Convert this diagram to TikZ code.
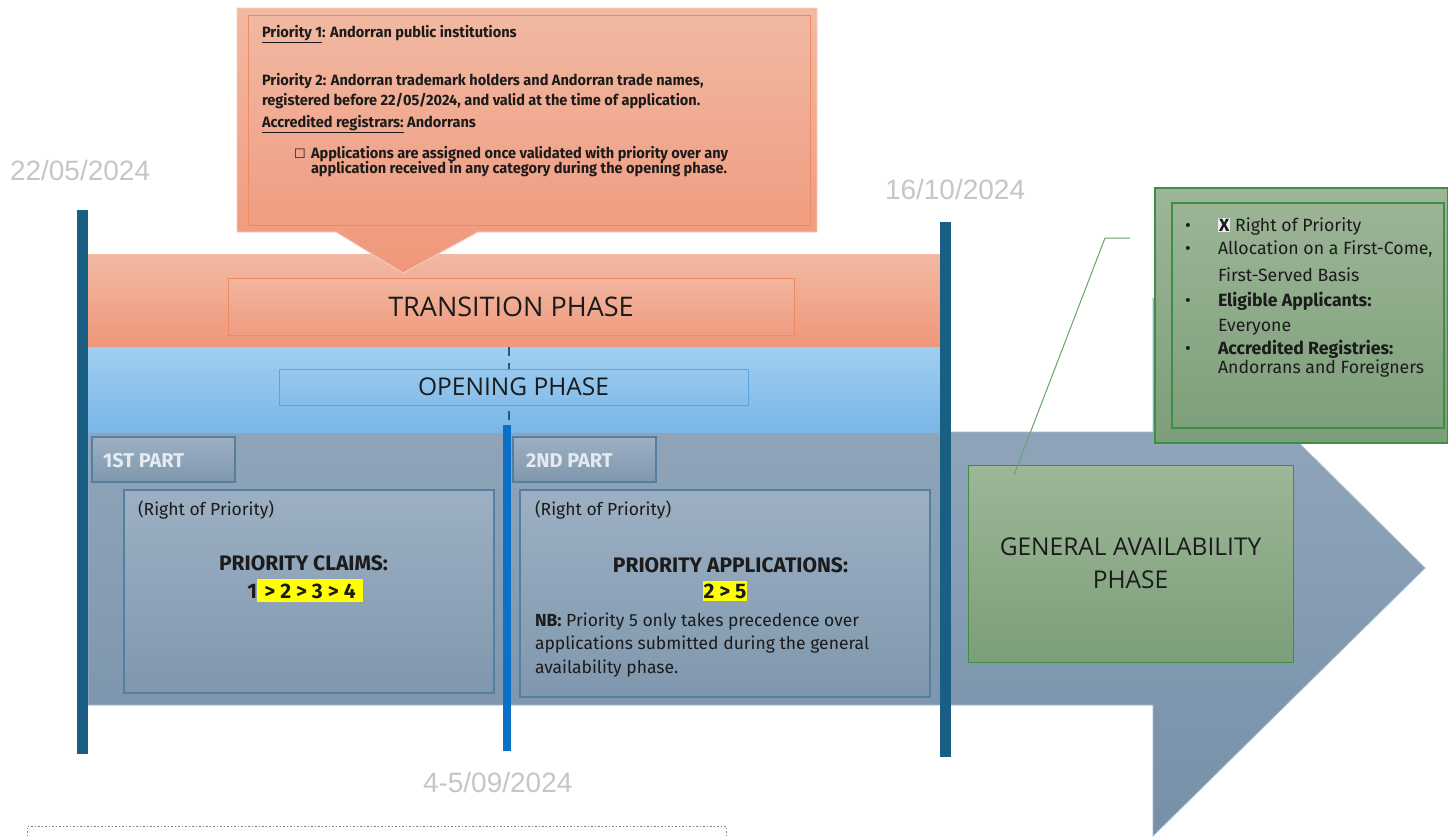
\documentclass[tikz,border=0pt]{standalone}
\usepackage{fontspec}
\setmainfont{Fira Sans}
\newfontfamily\plexc{Fira Sans}[FakeStretch=0.97]
\newfontfamily\opensf{Open Sans}
\newfontfamily\arialf{Liberation Sans}
\newfontfamily\symf{DejaVu Sans}
\usetikzlibrary{calc}
\definecolor{orT}{HTML}{F1B9A3}
\definecolor{orB}{HTML}{F0977A}
\definecolor{orBorder}{HTML}{EE8A62}
\definecolor{blT}{HTML}{A0CEF0}
\definecolor{blB}{HTML}{7AB6E7}
\definecolor{blBorder}{HTML}{56A6E0}
\definecolor{arrT}{HTML}{98ABBF}
\definecolor{arrB}{HTML}{7690A8}
\definecolor{arrEdge}{HTML}{9DBAD6}
\definecolor{boxBorder}{HTML}{557FA1}
\definecolor{boxT}{HTML}{9DB0C3}
\definecolor{boxB}{HTML}{7F97AD}
\definecolor{grT}{HTML}{9DB698}
\definecolor{grB}{HTML}{7C9E79}
\definecolor{grBorder}{HTML}{3F8E45}
\definecolor{barDark}{HTML}{185F83}
\definecolor{barBlue}{HTML}{0A70C8}
\definecolor{dategray}{HTML}{C6C6C6}
\definecolor{txt}{HTML}{1B1B1B}
\definecolor{parttxt}{HTML}{E4EAF0}
\definecolor{hl}{HTML}{FFFF00}
\tikzset{
  datelbl/.style={font=\arialf\fontsize{28}{32}\selectfont, text=dategray},
  calltxt/.style={anchor=base west, font=\plexc\bfseries\fontsize{15}{17}\selectfont, text=txt},
  bandbox/.style={anchor=north west, minimum width=854pt},
  phasebox/.style={anchor=north west, line width=1pt, text=txt},
  partbox/.style={anchor=north west, draw=boxBorder, line width=1.2pt, top color=boxT, bottom color=boxB, minimum width=143pt, minimum height=45pt},
  partlbl/.style={anchor=base west, font=\bfseries\fontsize{20}{22}\selectfont, text=parttxt},
  innerbox/.style={anchor=north west, draw=boxBorder, line width=1.2pt, top color=boxT, bottom color=boxB},
  bodytxt/.style={anchor=base west, font=\fontsize{17.5}{20}\selectfont, text=txt},
  headtxt/.style={anchor=base, font=\bfseries\fontsize{21}{24}\selectfont, text=txt},
  greentxt/.style={anchor=base west, font=\fontsize{17.7}{20}\selectfont, text=txt},
  bar/.style={anchor=north west, minimum width=11pt},
  conn/.style={draw=grBorder!80!white, line width=1pt}
}
\begin{document}
\begin{tikzpicture}[x=1pt,y=-1pt, every node/.style={inner sep=0pt,outer sep=0pt}]
\useasboundingbox (0,0) rectangle (1448,836);
\fill[white] (0,0) rectangle (1448,836);

% big arrow
\shadedraw[top color=arrT,bottom color=arrB, draw=arrEdge, line width=0.8pt]
  (88,432) -- (1153,432) -- (1153,298) -- (1425,568) -- (1153,836) -- (1153,705) -- (88,705) -- cycle;

% bands
\node[bandbox, top color=orT, bottom color=orB, minimum height=93pt] (transband) at (88,254) {};
\node[bandbox, top color=blT, bottom color=blB, minimum height=85pt] (openband) at (88,347) {};

% dashed split line
\coordinate (dtop) at (509,347);
\coordinate (dbot) at (509,428);
\draw[barDark, line width=1.6pt, dash pattern=on 9pt off 7pt] (dtop) -- (dbot);

\node[phasebox, draw=orBorder, top color=orT!90!orB, bottom color=orB!85!orT, minimum width=566pt, minimum height=57pt,
  font=\opensf\fontsize{27}{30}\selectfont] (trans) at (228,278) {TRANSITION PHASE};
\node[phasebox, draw=blBorder, top color=blT!75!blB, bottom color=blB!70!blT, minimum width=469pt, minimum height=36pt,
  font=\opensf\fontsize{24.5}{28}\selectfont] (open) at (279,369) {OPENING PHASE};

% callout
\shadedraw[top color=orT, bottom color=orB, draw=orT!70!white, line width=0.8pt]
  (237,8) -- (817,8) -- (817,232) -- (478,232) -- (403,273) -- (336,232) -- (237,232) -- cycle;
\node[anchor=north west, draw=orBorder, line width=1pt, minimum width=562pt, minimum height=210pt] (callin) at (248,15) {};
\node[calltxt] (p1) at (262,37) {\underline{Priority 1}: Andorran public institutions};
\node[calltxt] (p2) at (262,85) {Priority 2: Andorran trademark holders and Andorran trade names,};
\node[calltxt] (p2b) at (262,105) {registered before 22/05/2024, and valid at the time of application.};
\node[calltxt] (acc) at (262,127) {\underline{Accredited registrars:} Andorrans};
\node[anchor=base west, font=\symf\fontsize{13}{15}\selectfont, text=txt] (chk) at (294,158) {☐};
\node[calltxt] (ap1) at (311,158) {Applications are assigned once validated with priority over any};
\node[calltxt] (ap2) at (311,173) {application received in any category during the opening phase.};

% parts
\node[partbox] (part1) at (92,437) {};
\node[partlbl] (part1l) at (103,467) {1ST PART};
\node[partbox] (part2) at (513,437) {};
\node[partlbl] (part2l) at (526,467) {2ND PART};

\node[innerbox, minimum width=370pt, minimum height=203pt] (box1) at (124,490) {};
\node[bodytxt] (rp1) at (138,515) {(Right of Priority)};
\node[headtxt] (pc) at (303.5,570) {PRIORITY CLAIMS:};
\node[anchor=base east, font=\bfseries\fontsize{21}{24}\selectfont, text=txt] (c1) at (257,598) {1};
\node[anchor=base west, fill=hl, inner xsep=0pt, inner ysep=4pt, minimum width=106pt, font=\bfseries\fontsize{21}{24}\selectfont, text=txt] (c2) at (257,598) {> 2 > 3 > 4};

\node[innerbox, minimum width=410pt, minimum height=207pt] (box2) at (520,490) {};
\node[bodytxt] (rp2) at (535,515) {(Right of Priority)};
\node[headtxt] (pa) at (730.5,572) {PRIORITY APPLICATIONS:};
\node[anchor=base, fill=hl, inner xsep=1pt, inner ysep=3pt, font=\bfseries\fontsize{21}{24}\selectfont, text=txt] (pa2) at (725,598) {2 > 5};
\node[bodytxt] (nb1) at (535,626) {\textbf{NB:} Priority 5 only takes precedence over};
\node[bodytxt] (nb2) at (535,649) {applications submitted during the general};
\node[bodytxt] (nb3) at (535,673) {availability phase.};

% bars
\node[bar, fill=barDark, minimum height=544pt] (bar1) at (77,210) {};
\node[bar, fill=barDark, minimum height=535pt] (bar3) at (940,222) {};
\node[bar, fill=barBlue, minimum width=8pt, minimum height=326pt] (bar2) at (503,425) {};

% dates
\node[datelbl, anchor=west] (d1) at (10,170) {22/05/2024};
\node[datelbl, anchor=west] (d3) at (885,189) {16/10/2024};
\node[datelbl, anchor=west] (d2) at (423,782) {4-5/09/2024};

% general availability
\node[anchor=north west, draw=grBorder, line width=1pt, top color=grT, bottom color=grB, minimum width=325pt, minimum height=197pt,
  align=center, text=txt, font=\opensf\fontsize{24.5}{33}\selectfont] (ga) at (968,465) {GENERAL AVAILABILITY\\PHASE};

\node[anchor=north west, draw=grBorder, line width=1.5pt, top color=grT, bottom color=grB, minimum width=293pt, minimum height=255pt] (gainfo) at (1155,188) {};
\node[anchor=north west, draw=grBorder, line width=1.2pt, minimum width=272pt, minimum height=225pt] (gainfoin) at (1172,203) {};
\foreach \yy in {231,254,306,354} {\node[greentxt] at (1185,\yy) {•};}
\node[greentxt] (g1) at (1218,231) {\setlength{\fboxsep}{1pt}\colorbox{white!85!gray}{\textbf{X}} Right of Priority};
\node[greentxt] (g2) at (1218,254) {Allocation on a First-Come,};
\node[greentxt] (g3) at (1218,281) {First-Served Basis};
\node[greentxt] (g4) at (1218,306) {\textbf{Eligible Applicants:}};
\node[greentxt] (g5) at (1218,331) {Everyone};
\node[greentxt] (g6) at (1218,354) {\textbf{Accredited Registries:}};
\node[greentxt] (g7) at (1218,373) {Andorrans and Foreigners};

% connector
\coordinate (cbend) at (1105,238);
\coordinate (cend) at (1130,238);
\draw[conn] ($(ga.north west)+(46,10)$) -- (cbend) -- (cend);

% dotted frame at bottom
\coordinate (fl) at (27,836);
\coordinate (fr) at (726,836);
\draw[gray, line width=0.8pt, dash pattern=on 1.5pt off 2pt] (fl) -- (27,826) -- (726,826) -- (fr);
\end{tikzpicture}
\end{document}
